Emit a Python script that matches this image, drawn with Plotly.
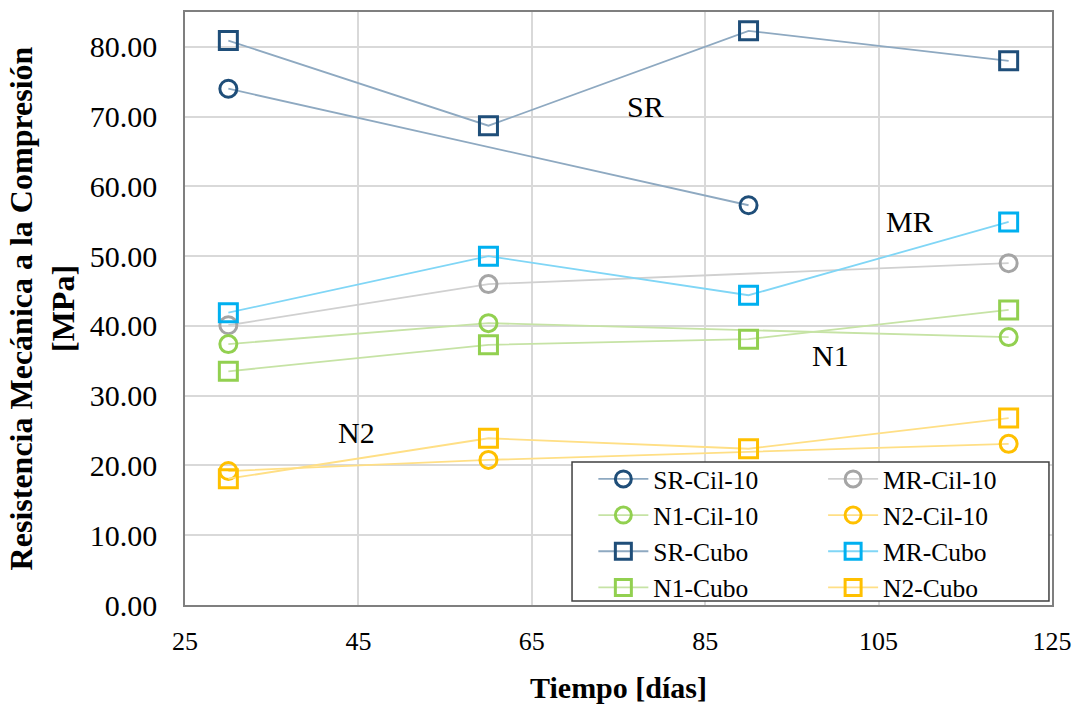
import plotly.graph_objects as go

dias = [30, 60, 90, 120]

sr_cil = [74.0, None, 57.3, None]
mr_cil = [40.1, 46.0, None, 49.0]
n1_cil = [37.4, 40.4, None, 38.4]
n2_cil = [19.2, 20.8, None, 23.1]
sr_cubo = [80.9, 68.7, 82.3, 78.0]
mr_cubo = [41.9, 50.0, 44.4, 54.9]
n1_cubo = [33.5, 37.3, 38.1, 42.3]
n2_cubo = [18.1, 23.9, 22.4, 26.8]

series = [
    ("SR-Cil-10", sr_cil, "circle-open", "#1F4E79", "#8EA9C1", "legend"),
    ("MR-Cil-10", mr_cil, "circle-open", "#A5A5A5", "#D0D0D0", "legend2"),
    ("N1-Cil-10", n1_cil, "circle-open", "#92D050", "#C6E3A5", "legend"),
    ("N2-Cil-10", n2_cil, "circle-open", "#FFC000", "#FFDF85", "legend2"),
    ("SR-Cubo", sr_cubo, "square-open", "#1F4E79", "#8EA9C1", "legend"),
    ("MR-Cubo", mr_cubo, "square-open", "#00B0F0", "#80D6F6", "legend2"),
    ("N1-Cubo", n1_cubo, "square-open", "#92D050", "#C6E3A5", "legend"),
    ("N2-Cubo", n2_cubo, "square-open", "#FFC000", "#FFDF85", "legend2"),
]

labels = [("SR", 78.1, 71.5), ("MR", 108.6, 54.9), ("N1", 99.5, 35.8), ("N2", 44.8, 24.7)]

FONT = "Liberation Serif"

fig = go.Figure()
for name, vals, sym, mcol, lcol, leg in series:
    fig.add_trace(go.Scatter(
        x=dias, y=vals, name=name, mode="lines+markers", connectgaps=True,
        line=dict(color=lcol, width=1.8),
        marker=dict(symbol=sym, size=18 if "square" in sym else 17,
                    color=mcol, line=dict(color=mcol, width=3)),
        legend=leg,
    ))

for t, x, y in labels:
    fig.add_annotation(x=x, y=y, text=t, showarrow=False,
                       font=dict(family=FONT, size=30, color="black"))

fig.add_shape(type="rect", xref="paper", yref="paper",
              x0=0.4464, x1=0.9965, y0=0.0067, y1=0.2411,
              line=dict(color="#404040", width=1.5), fillcolor="white", layer="above")

legend_common = dict(
    font=dict(family=FONT, size=25.5, color="black"),
    bgcolor="rgba(0,0,0,0)", borderwidth=0,
    xanchor="left", yanchor="top", itemwidth=50,
    orientation="v",
)

fig.update_layout(
    width=1082, height=704,
    margin=dict(l=185, r=30, t=12, b=99),
    plot_bgcolor="white", paper_bgcolor="white",
    font=dict(family=FONT, size=26, color="black"),
    showlegend=True,
    legend=dict(x=0.471, y=0.2515, **legend_common),
    legend2=dict(x=0.736, y=0.2515, **legend_common),
    xaxis=dict(
        range=[25, 125], tickvals=[25, 45, 65, 85, 105, 125],
        showgrid=True, gridcolor="#D9D9D9", gridwidth=2,
        showline=True, linecolor="#7F7F7F", linewidth=1.5, mirror=True,
        zeroline=False, ticks="", ticklabelstandoff=12, automargin=False,
        tickfont=dict(family=FONT, size=26, color="black"),
        title=dict(text="<b>Tiempo [días]</b>", standoff=22,
                   font=dict(family=FONT, size=30, color="black")),
    ),
    yaxis=dict(
        range=[0, 85], tickvals=[0, 10, 20, 30, 40, 50, 60, 70, 80], tickformat=".2f",
        showgrid=True, gridcolor="#D9D9D9", gridwidth=2,
        showline=True, linecolor="#7F7F7F", linewidth=1.5, mirror=True,
        zeroline=False, ticks="", ticklabelstandoff=20, automargin=False,
        tickfont=dict(family=FONT, size=30, color="black"),
        title=dict(text="<b>Resistencia Mecánica a la Compresión<br>[MPa]</b>", standoff=6,
                   font=dict(family=FONT, size=32, color="black")),
    ),
)

fig.write_html("out.html")
